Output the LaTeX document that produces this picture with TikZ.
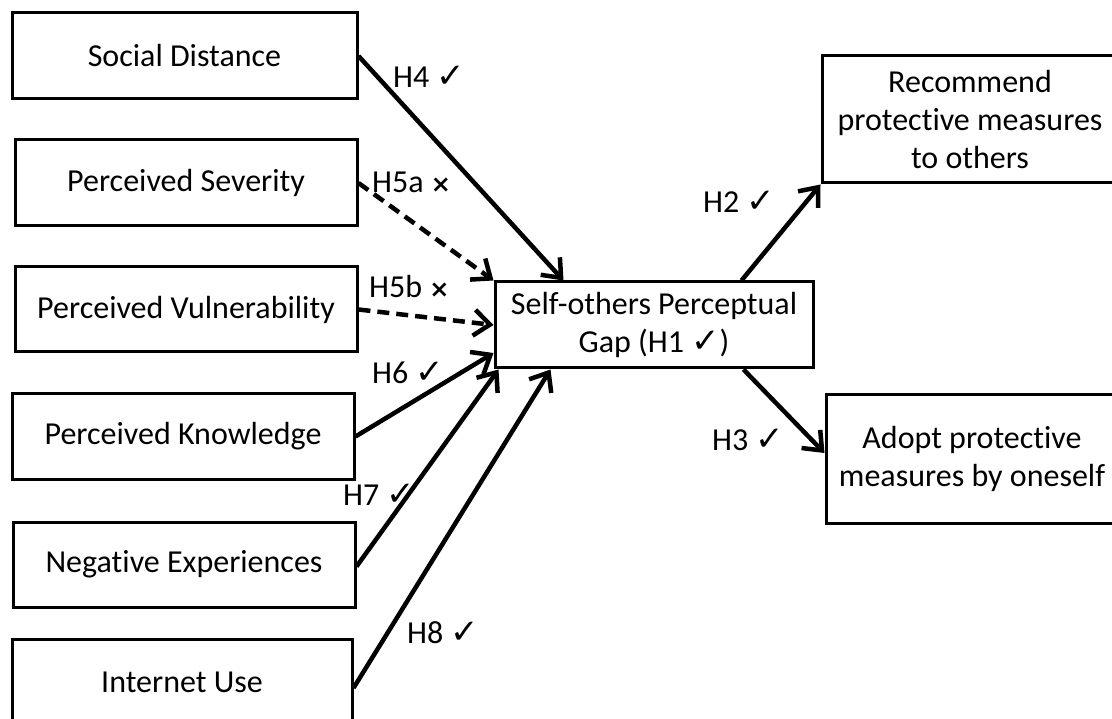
\documentclass[tikz,border=0pt]{standalone}
\usepackage{fontspec}
\setmainfont{Carlito}[RawFeature=-liga]
\newfontfamily\dejavu{DejaVu Sans}
\usetikzlibrary{arrows.meta}
\newcommand{\myck}{{\dejavu\fontsize{34}{34}\selectfont ✓}}
\newcommand{\myx}{{\dejavu\bfseries\fontsize{24}{24}\selectfont ×}}
\begin{document}
\begin{tikzpicture}[x=1pt,y=-1pt,
  box/.style={draw, line width=3pt, inner sep=0pt, align=center, font=\fontsize{32}{38}\selectfont},
  arr/.style={line width=4.5pt, -{Straight Barb[length=16pt,width=26pt]}},
  darr/.style={arr, dash pattern=on 12pt off 7pt},
  lab/.style={anchor=base west, inner sep=0pt, font=\fontsize{32}{36}\selectfont}]
\fill[white] (0,0) rectangle (1112,719);
\useasboundingbox (0,0) rectangle (1112,719);
% left boxes
\node[box, minimum width=345pt, minimum height=86pt] (sd) at (184.5,56) {Social Distance};
\node[box, minimum width=342pt, minimum height=86pt] (ps) at (186,183) {Perceived Severity};
\node[box, minimum width=342pt, minimum height=85pt] (pv) at (186,309.5) {Perceived Vulnerability};
\node[box, minimum width=342pt, minimum height=85pt] (pk) at (183,436.5) {Perceived Knowledge};
\node[box, minimum width=342pt, minimum height=85pt] (ne) at (184,564.5) {Negative Experiences};
\node[box, minimum width=340pt, minimum height=86pt] (iu) at (182,682) {Internet Use};
% centre
\node[box, minimum width=318pt, minimum height=86pt] (self) at (654,325) {Self-others Perceptual\\Gap (H1 \myck)};
% right boxes
\node[box, minimum width=296pt, minimum height=127pt] (rec) at (970,119.5) {Recommend\\protective measures\\to others};
\node[box, minimum width=292pt, minimum height=128pt] (adopt) at (972,459) {Adopt protective\\measures by oneself};
% connectors
\draw[arr] (sd.east) -- ([xshift=70pt]self.north west);
\draw[darr] (ps.east) -- (self.north west);
\draw[darr] (pv.east) -- (self.west);
\draw[arr] (pk.east) -- ([yshift=-28pt]self.west);
\draw[arr] ([yshift=-2pt]ne.east) -- ([xshift=5pt]self.south west);
\draw[arr] ([yshift=-6pt]iu.east) -- ([xshift=57pt]self.south west);
\draw[arr] ([xshift=-73pt]self.north east) -- (rec.south west);
\draw[arr] ([xshift=-71pt]self.south east) -- ([yshift=6pt]adopt.west);
% labels
\node[lab] (l4) at (393,88) {H4 \myck};
\node[lab] (l5a) at (372,193) {H5a \myx};
\node[lab] (l5b) at (369,298) {H5b \myx};
\node[lab] (l6) at (372,384) {H6 \myck};
\node[lab] (l7) at (343,505) {H7 \myck};
\node[lab] (l8) at (407,643) {H8 \myck};
\node[lab] (l2) at (703,213) {H2 \myck};
\node[lab] (l3) at (712,450) {H3 \myck};
\end{tikzpicture}
\end{document}
